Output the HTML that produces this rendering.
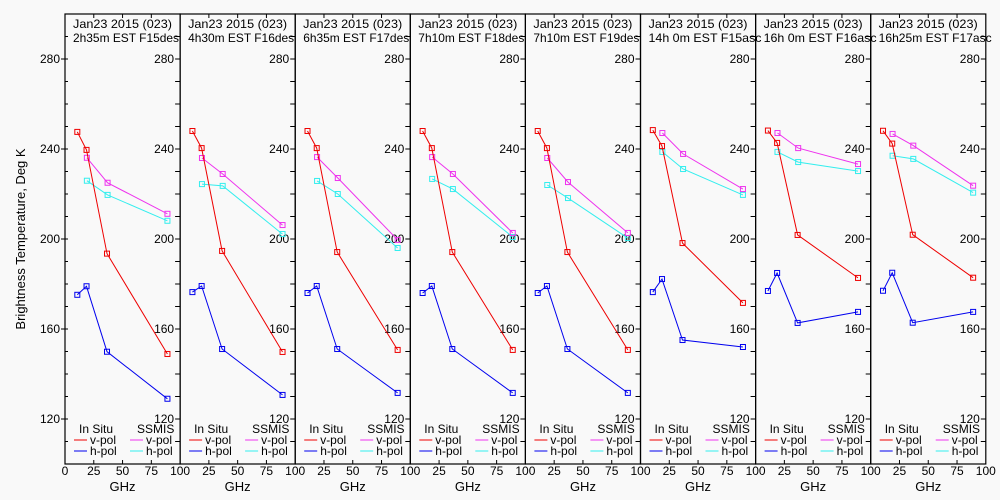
<!DOCTYPE html>
<html><head><meta charset="utf-8"><style>
html,body{margin:0;padding:0;background:#f9f9f9;}
svg{display:block;font-family:"Liberation Sans",sans-serif;}
</style></head><body>
<svg id="c" width="1000" height="500" viewBox="0 0 1000 500">
<rect width="1000" height="500" fill="#f9f9f9"/>
</svg>
<script>
const titles1 = ["Jan23 2015 (023)","Jan23 2015 (023)","Jan23 2015 (023)","Jan23 2015 (023)","Jan23 2015 (023)","Jan23 2015 (023)","Jan23 2015 (023)","Jan23 2015 (023)"];
const titles2 = ["2h35m EST F15des","4h30m EST F16des","6h35m EST F17des","7h10m EST F18des","7h10m EST F19des","14h 0m EST F15asc","16h 0m EST F16asc","16h25m EST F17asc"];
const inSituFreq = [10.7, 18.7, 36.5, 89];
const ssmisFreq = [19, 37, 89];
const insituV = [
 [247.6,239.6,193.5,148.9],[248,240.4,194.7,149.8],[248,240.4,194.2,150.7],[248,240.4,194.2,150.7],
 [248,240.4,194.2,150.7],[248.4,241.3,198.2,171.6],[248.2,242.7,201.8,182.7],[248.1,242.4,201.9,182.8]];
const insituH = [
 [175.2,179,149.9,129],[176.4,179.1,151.1,130.7],[176,179.1,151.1,131.6],[176,179.1,151.1,131.6],
 [176,179.1,151.1,131.6],[176.4,182.2,155.1,152],[176.9,184.9,162.7,167.6],[177,185,162.8,167.6]];
const ssmisV = [
 [236.1,225,211.2],[236,228.9,206.2],[236.4,227.1,199.6],[236.4,228.9,202.7],
 [236,225.3,202.7],[247.1,237.8,222.2],[247.1,240.4,233.3],[246.7,241.5,223.7]];
const ssmisH = [
 [225.9,219.6,208.1],[224.4,223.6,202.2],[225.8,220,196],[226.7,222.2,200.9],
 [224,218.2,200.4],[238.7,231.1,219.6],[238.7,234.2,230.2],[237,235.6,220.6]];
const yTicks = [120,160,200,240,280];
const xTicks = [0,25,50,75,100];

const svg = document.getElementById('c');
const NS = "http://www.w3.org/2000/svg";
const X0 = 65, PW = 115.1, TOP = 14, BOT = 464;
function yPix(v){ return BOT - (v-100)*(BOT-TOP)/200; }
function xPix(p,f){ return X0 + p*PW + f*PW/100; }
function mk(tag, attrs, parent){
  const e = document.createElementNS(NS, tag);
  for (const k in attrs) e.setAttribute(k, attrs[k]);
  (parent||svg).appendChild(e); return e;
}
function txt(s, x, y, opts, parent){
  const t = mk('text', Object.assign({x:x,y:y,'font-size':12,fill:'#000'}, opts||{}), parent);
  t.textContent = s; return t;
}

const yt = txt("Brightness Temperature, Deg K", 0, 0, {transform:"translate(25,239) rotate(-90)", 'text-anchor':'middle','font-size':13});



for (let p=0;p<8;p++){
  const g = mk('g', {});
  
  
  const L = X0 + p*PW, R = L + PW;
  const frame = mk('rect', {x:L, y:TOP, width:PW, height:BOT-TOP, fill:'none', stroke:'#000', 'stroke-width':1.2}, g);
  
  
  // y ticks
  for (let v=110; v<=290; v+=10){
    const y = yPix(v);
    mk('line',{x1:R-5,x2:R,y1:y,y2:y,stroke:'#000'},g);
    if (p===0) mk('line',{x1:L-(yTicks.includes(v)?4:0),x2:L+3,y1:y,y2:y,stroke:'#000'},g);
  }
  yTicks.forEach(v=>{
    const y = yPix(v);
    const lb = txt(String(v), R-6, y+4, {'text-anchor':'end'}, g);
    
    
    if (p===0){
      const lb2 = txt(String(v), L-5, y+4, {'text-anchor':'end'}, g);
      
      
    }
  });
  // x ticks
  xTicks.forEach(f=>{
    const x = xPix(p,f);
    if (f>0 && f<100){
      mk('line',{x1:x,x2:x,y1:TOP,y2:TOP+4,stroke:'#000'},g);
      mk('line',{x1:x,x2:x,y1:BOT-4,y2:BOT,stroke:'#000'},g);
    }
    if (f===0 && p>0) return;
    const lb = txt(String(f), x, 475, {'text-anchor':'middle'}, g);
    
    
  });
  const gx = txt("GHz", L+PW/2, 491, {'text-anchor':'middle','font-size':13}, g);
  
  
  const t1 = txt(titles1[p], L+8, 28, {'font-size':12, textLength:99, lengthAdjust:'spacingAndGlyphs'}, g);
  
  
  const t2 = txt(titles2[p], L+8, 42, {'font-size':12, textLength:(titles2[p].length>16?113:106), lengthAdjust:'spacingAndGlyphs'}, g);
  
  
  // series
  const series = [
    [ssmisH[p], ssmisFreq, '#33eeee', 'ssmis-h-pol'],
    [ssmisV[p], ssmisFreq, '#ee33ee', 'ssmis-v-pol'],
    [insituH[p], inSituFreq, '#0000ee', 'insitu-h-pol'],
    [insituV[p], inSituFreq, '#ee0000', 'insitu-v-pol']];
  series.forEach(s=>{
    const vals=s[0], fr=s[1], col=s[2];
    const pts = vals.map((v,i)=>xPix(p,fr[i]).toFixed(1)+','+yPix(v).toFixed(1)).join(' ');
    const pl = mk('polyline',{points:pts,fill:'none',stroke:col,'stroke-width':1},g);
    
    
    vals.forEach((v,i)=>{
      const m = mk('rect',{x:xPix(p,fr[i])-2.5,y:yPix(v)-2.5,width:5,height:5,fill:'none',stroke:col,'stroke-width':1},g);
      
      
    });
  });
  // legend
  const lg = mk('g',{},g);
  
  
  txt("In Situ", L+14, 433, {}, lg);
  txt("SSMIS", L+72, 433, {}, lg);
  [['v-pol','#ee0000','#ee33ee',444],['h-pol','#0000ee','#33eeee',455]].forEach(r=>{
    mk('line',{x1:L+9,x2:L+22,y1:r[3]-4,y2:r[3]-4,stroke:r[1]},lg);
    txt(r[0], L+25, r[3], {}, lg);
    mk('line',{x1:L+65,x2:L+78,y1:r[3]-4,y2:r[3]-4,stroke:r[2]},lg);
    txt(r[0], L+81, r[3], {}, lg);
  });
}
</script>
</body></html>
